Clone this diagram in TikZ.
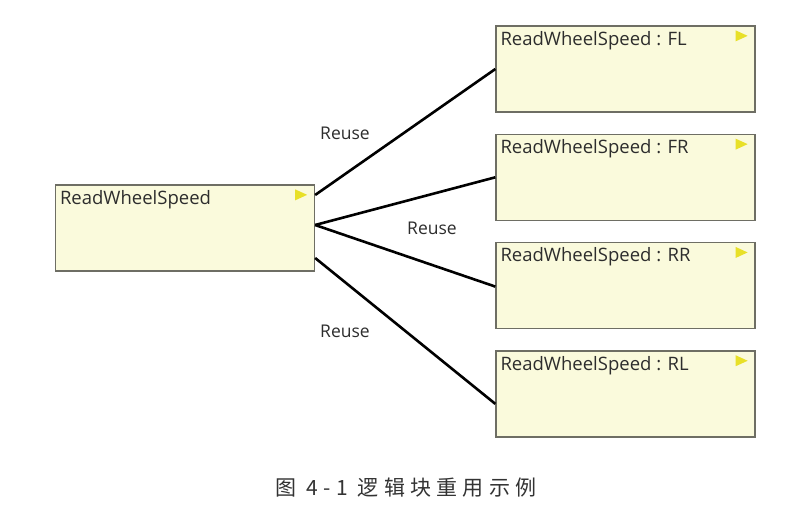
\documentclass[tikz,border=0pt]{standalone}
\usepackage{fontspec}
\setmainfont{Open Sans}
\newfontfamily\cjk{Noto Sans CJK SC}
\usetikzlibrary{positioning}

\definecolor{boxfill}{RGB}{250,250,220}
\definecolor{boxline}{RGB}{110,110,100}
\definecolor{labeltext}{RGB}{45,45,45}
\definecolor{flagfill}{RGB}{232,224,40}

\begin{document}
\begin{tikzpicture}[
  x=1pt, y=-1pt,
  block/.style={draw=boxline, fill=boxfill, line width=1.3pt, minimum width=259pt, minimum height=86pt, inner sep=0pt},
  blockname/.style={anchor=base west, inner sep=0pt, font=\fontsize{18.5}{19}\selectfont, text=labeltext},
  link/.style={line width=2.6pt, black},
  reuse/.style={inner sep=0pt, font=\fontsize{17.5}{18}\selectfont, text=labeltext}
]
\useasboundingbox (0,0) rectangle (785,518);

\node[block] (main) at (185,228) {};
\node[block] (fl) at (625.5,69) {};
\node[block, below=21pt of fl] (fr) {};
\node[block, below=21pt of fr] (rr) {};
\node[block, below=21pt of rr] (rl) {};

% names and flags
\foreach \b/\t in {main/ReadWheelSpeed, fl/ReadWheelSpeed : FL, fr/ReadWheelSpeed : FR, rr/ReadWheelSpeed : RR, rl/ReadWheelSpeed : RL} {
  \node[blockname] (\b-name) at ([xshift=5pt, yshift=-20pt]\b.north west) {\t};
  \fill[flagfill] ([xshift=-20pt, yshift=-5pt]\b.north east) -- ([xshift=-8pt, yshift=-10.5pt]\b.north east) -- ([xshift=-20pt, yshift=-16pt]\b.north east) -- cycle;
}

% reuse links
\draw[link] ([yshift=33pt]main.east) -- (fl.west);
\draw[link] ([yshift=3pt]main.east) -- (fr.west);
\draw[link] ([yshift=3pt]main.east) -- ([yshift=-1pt]rr.west);
\draw[link] ([yshift=-30pt]main.east) -- ([yshift=-10pt]rl.west);

\node[reuse] (reuse1) at (345,133) {Reuse};
\node[reuse] (reuse2) at (432,228) {Reuse};
\node[reuse] (reuse3) at (345,331) {Reuse};

\node[inner sep=0pt, font=\cjk\fontsize{21}{21}\selectfont\addfontfeature{LetterSpace=25}, text=black!80] (caption) at (406,488) {图 4-1 逻辑块重用示例};
\end{tikzpicture}
\end{document}
